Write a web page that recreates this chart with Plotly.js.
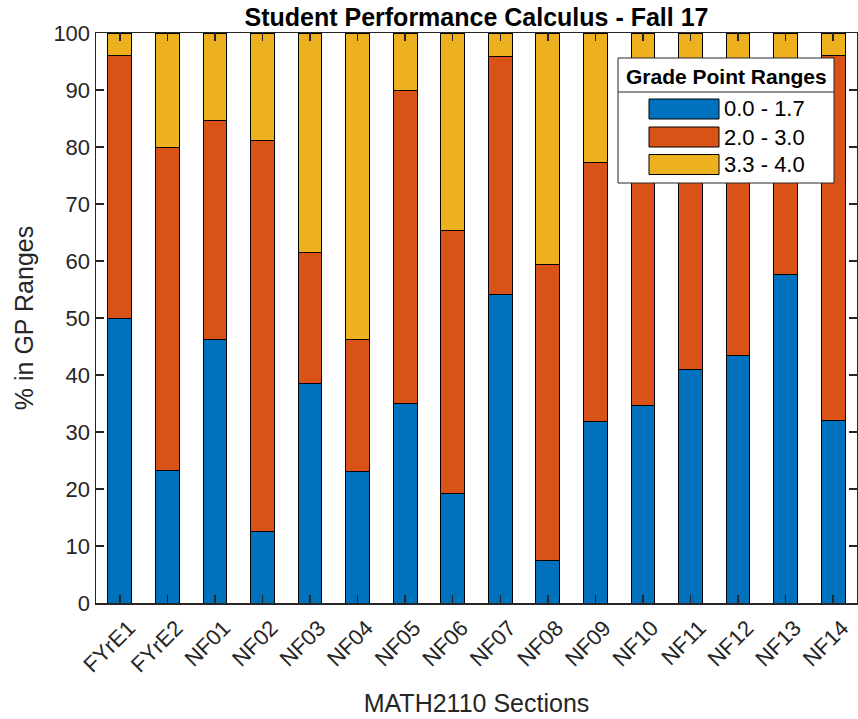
<!DOCTYPE html>
<html>
<head>
<meta charset="utf-8">
<script src="https://cdn.plot.ly/plotly-3.0.1.min.js"></script>
<style>html,body{margin:0;padding:0;background:#fff;}#chart{width:858px;height:719px;}</style>
</head>
<body>
<div id="chart"></div>
<script>
const categories = ['FYrE1','FYrE2','NF01','NF02','NF03','NF04','NF05','NF06','NF07','NF08','NF09','NF10','NF11','NF12','NF13','NF14'];
const seriesNames = ['0.0 - 1.7','2.0 - 3.0','3.3 - 4.0'];
const low  = [50.0, 23.3, 46.2, 12.5, 38.5, 23.1, 35.0, 19.2, 54.2, 7.4, 31.8, 34.6, 40.9, 43.4, 57.7, 32.0];
const mid  = [46.0, 56.7, 38.4, 68.7, 23.0, 23.1, 55.0, 46.2, 41.6, 51.9, 45.5, 52.0, 50.0, 45.0, 34.6, 64.0];
const high = [4.0, 20.0, 15.4, 18.8, 38.5, 53.8, 10.0, 34.6, 4.2, 40.7, 22.7, 13.4, 9.1, 11.6, 7.7, 4.0];
const yTicks = [0,10,20,30,40,50,60,70,80,90,100];
const colors = ['#0072BD','#D95319','#EDB120'];
const legendTitle = 'Grade Point Ranges';

const values = [low, mid, high];
const traces = values.map((v, i) => ({
  type: 'bar',
  name: seriesNames[i],
  x: categories,
  y: v,
  width: 0.5,
  marker: {color: colors[i], line: {color: '#000', width: 1}},
  showlegend: false,
  hoverinfo: 'x+y+name'
}));

const FONT = 'Liberation Sans, Arial, sans-serif';
// Layout geometry (pixels)
const W = 858, H = 719, mL = 96, mR = 1, mT = 33, mB = 116;
const pw = W - mL - mR, ph = H - mT - mB;
const px = x => (x - mL) / pw;
const py = y => (H - mB - y) / ph;

const shapes = [];
const annotations = [];
// legend box
shapes.push({type:'rect', xref:'paper', yref:'paper', x0:px(618), x1:px(834), y0:py(183), y1:py(58),
  fillcolor:'#fff', line:{color:'#262626', width:1}, layer:'above'});
shapes.push({type:'line', xref:'paper', yref:'paper', x0:px(618), x1:px(834), y0:py(92), y1:py(92),
  line:{color:'#262626', width:1}, layer:'above'});
annotations.push({xref:'paper', yref:'paper', x:px(726), y:py(76), text:'<b>'+legendTitle+'</b>', showarrow:false,
  xanchor:'center', yanchor:'middle', font:{family:FONT, size:21, color:'#000'}});
const rowY = [109, 137, 164.5];
seriesNames.forEach((n, i) => {
  shapes.push({type:'rect', xref:'paper', yref:'paper', x0:px(649), x1:px(719), y0:py(rowY[i]+10), y1:py(rowY[i]-10),
    fillcolor:colors[i], line:{color:'#000', width:1}, layer:'above'});
  annotations.push({xref:'paper', yref:'paper', x:px(722), y:py(rowY[i]), text:n, showarrow:false,
    xanchor:'left', yanchor:'middle', font:{family:FONT, size:22, color:'#000'}});
});

const layout = {
  width: W, height: H,
  margin: {l: mL, r: mR, t: mT, b: mB, pad: 0},
  barmode: 'stack',
  paper_bgcolor: '#fff', plot_bgcolor: '#fff',
  font: {family: FONT, color: '#262626'},
  title: {text: '<b>Student Performance Calculus - Fall 17</b>', x: (mL + pw / 2) / W, xanchor: 'center',
          y: 1 - 17 / H, yanchor: 'middle', font: {size: 25, color: '#000'}},
  xaxis: {
    type: 'category', range: [-0.5, 15.5],
    showline: true, linecolor: '#262626', linewidth: 1.5, mirror: 'allticks',
    ticks: 'inside', ticklen: 8, tickwidth: 1.5, tickcolor: '#262626',
    tickangle: -45, tickfont: {size: 22, color: '#262626'},
    ticklabelshift: 9, ticklabelstandoff: 2,
    showgrid: false, zeroline: false,
    title: {text: 'MATH2110 Sections', font: {size: 25, color: '#262626'}, standoff: 18}
  },
  yaxis: {
    range: [0, 100], tickvals: yTicks, ticktext: yTicks.map(String),
    showline: true, linecolor: '#262626', linewidth: 1.5, mirror: 'allticks',
    ticks: 'inside', ticklen: 8, tickwidth: 1.5, tickcolor: '#262626',
    tickfont: {size: 22, color: '#262626'},
    showgrid: false, zeroline: false,
    title: {text: '% in GP Ranges', font: {size: 25, color: '#262626'}, standoff: 12}
  },
  shapes: shapes,
  annotations: annotations
};

Plotly.newPlot('chart', traces, layout, {displayModeBar: false, staticPlot: true});
</script>
</body>
</html>
